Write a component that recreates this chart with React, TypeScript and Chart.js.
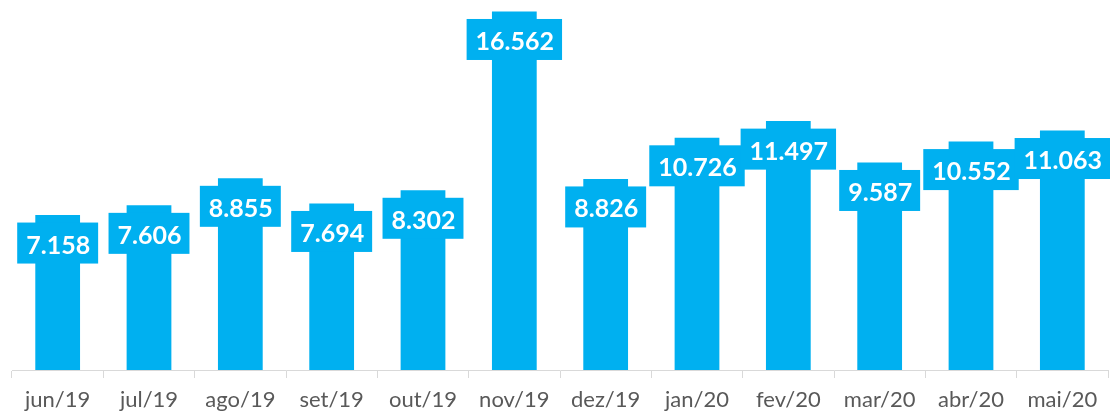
import React, { useEffect, useRef } from "react";
import { Chart, registerables } from "chart.js";

Chart.register(...registerables);

const categories = ["jun/19", "jul/19", "ago/19", "set/19", "out/19", "nov/19", "dez/19", "jan/20", "fev/20", "mar/20", "abr/20", "mai/20"];
const values = [7158, 7606, 8855, 7694, 8302, 16562, 8826, 10726, 11497, 9587, 10552, 11063];
const yMax = 17000;

const BLUE = "#00B0F0";

function fmt(v: number): string {
  return String(v).replace(/\B(?=(\d{3})+(?!\d))/g, ".");
}

const labelPlugin = {
  id: "boxLabels",
  afterDatasetsDraw(chart: any) {
    const ctx = chart.ctx;
    const meta = chart.getDatasetMeta(0);
    ctx.save();
    ctx.font = "bold 25px Lato";
    meta.data.forEach((bar: any, i: number) => {
      const text = fmt(values[i]);
      const w = ctx.measureText(text).width + 17;
      const h = 41;
      const top = bar.y + 7.5;
      ctx.fillStyle = BLUE;
      ctx.fillRect(bar.x - w / 2, top, w, h);
      ctx.fillStyle = "#FFFFFF";
      ctx.textAlign = "center";
      ctx.textBaseline = "alphabetic";
      ctx.fillText(text, bar.x + 0.5, top + 31);
    });
    ctx.restore();
  },
};

export default function App() {
  const ref = useRef<HTMLCanvasElement>(null);
  useEffect(() => {
    if (!ref.current) return;
    const chart = new Chart(ref.current, {
      type: "bar",
      data: {
        labels: categories,
        datasets: [
          {
            data: values,
            backgroundColor: BLUE,
            barPercentage: 0.49,
            categoryPercentage: 1,
          },
        ],
      },
      options: {
        animation: false,
        responsive: false,
        maintainAspectRatio: false,
        layout: { padding: { left: 12, right: 2, top: 2, bottom: 0 } },
        plugins: { legend: { display: false }, tooltip: { enabled: false } },
        scales: {
          x: {
            offset: true,
            grid: {
              offset: true,
              drawOnChartArea: false,
              drawTicks: true,
              tickLength: 8,
              color: "#D9D9D9",
            },
            border: { display: true, color: "#D9D9D9", width: 1 },
            ticks: {
              color: "#595959",
              font: { family: "Lato", size: 22 },
              padding: 9,
              maxRotation: 0,
              autoSkip: false,
            },
            afterFit: (scale: any) => {
              scale.height = 43;
            },
          },
          y: { display: false, min: 0, max: yMax },
        },
      },
      plugins: [labelPlugin],
    });
    return () => chart.destroy();
  }, []);
  return (
    <div style={{ position: "absolute", left: 0, top: 0, width: 1110, height: 413 }}>
      <canvas ref={ref} width={1110} height={413} style={{ display: "block" }} />
    </div>
  );
}
